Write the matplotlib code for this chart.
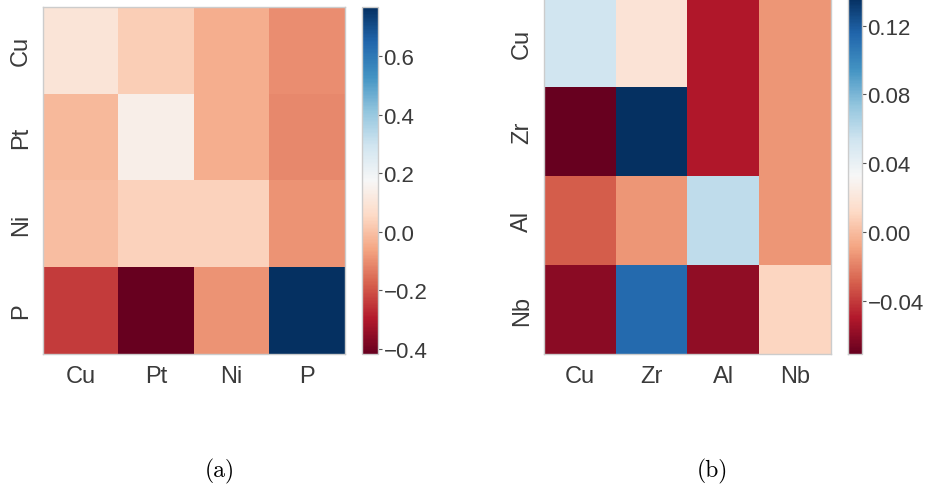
import matplotlib
matplotlib.use("Agg")
import matplotlib.pyplot as plt
import numpy as np

# Element labels for each panel
labels_a = ["Cu", "Pt", "Ni", "P"]
labels_b = ["Cu", "Zr", "Al", "Nb"]

# Interaction coefficients, rows listed top to bottom
row_cu_a = [0.10, 0.03, -0.04, -0.10]
row_pt_a = [-0.015, 0.14, -0.04, -0.11]
row_ni_a = [-0.01, 0.04, 0.04, -0.09]
row_p_a = [-0.24, -0.417, -0.09, 0.767]

row_cu_b = [0.053, 0.018, -0.050, -0.013]
row_zr_b = [-0.071, 0.136, -0.050, -0.013]
row_al_b = [-0.030, -0.013, 0.059, -0.013]
row_nb_b = [-0.061, 0.113, -0.059, 0.010]

ticks_a = [-0.4, -0.2, 0.0, 0.2, 0.4, 0.6]
ticks_b = [-0.04, 0.00, 0.04, 0.08, 0.12]

plt.rcParams["font.family"] = ["Liberation Sans", "DejaVu Sans"]
text_color = "#3a3a3a"
edge_color = "#cccccc"

fig = plt.figure(figsize=(9.3, 4.89), dpi=100)


def panel(rect, cbar_rect, rows, labels, ticks, fmt, caption, cap_x):
    data = np.array(rows)
    ax = fig.add_axes(rect)
    cax = fig.add_axes(cbar_rect)
    im = ax.imshow(data, cmap="RdBu", vmin=data.min(), vmax=data.max(),
                   aspect="auto", interpolation="nearest")
    n = len(labels)
    ax.set_xticks(range(n))
    ax.set_yticks(range(n))
    ax.set_xticklabels(labels)
    ax.set_yticklabels(labels, rotation=90, va="center")
    ax.tick_params(length=0, labelsize=17, labelcolor=text_color, pad=8)
    for s in ax.spines.values():
        s.set_edgecolor(edge_color)
        s.set_linewidth(1.0)
    cb = fig.colorbar(im, cax=cax, ticks=ticks)
    cb.ax.set_yticklabels([fmt.format(t).replace("-", "\u2212") for t in ticks])
    cb.outline.set_edgecolor(edge_color)
    cb.outline.set_linewidth(1.0)
    cb.ax.tick_params(length=3, width=0.8, color="#555555", labelsize=16,
                      labelcolor=text_color, pad=1)
    fig.text(cap_x, 0.035, caption, ha="center", va="center",
             family="cmr10", fontsize=17, color="black")


panel([0.0462, 0.274, 0.3247, 0.7096], [0.3892, 0.274, 0.0172, 0.7096],
      [row_cu_a, row_pt_a, row_ni_a, row_p_a], labels_a, ticks_a,
      "{:.1f}", "(a)", 0.2366)
panel([0.585, 0.274, 0.3086, 0.728], [0.9118, 0.274, 0.0151, 0.728],
      [row_cu_b, row_zr_b, row_al_b, row_nb_b], labels_b, ticks_b,
      "{:.2f}", "(b)", 0.7656)

fig.savefig("out.png", dpi=100)
